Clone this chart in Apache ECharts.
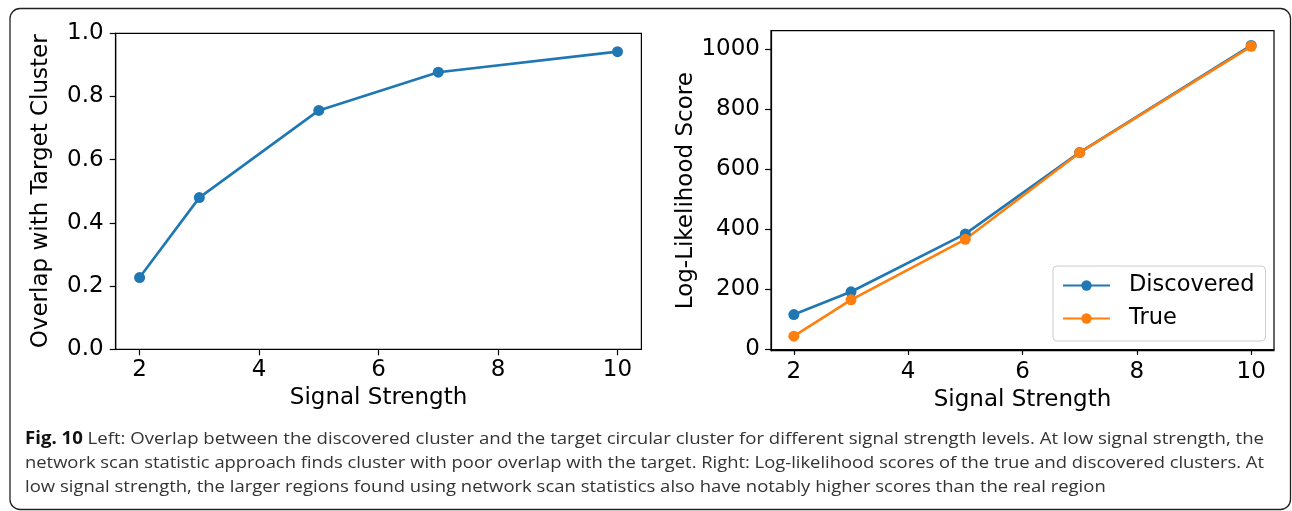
<!DOCTYPE html>
<html>
<head>
<meta charset="utf-8">
<script src="https://cdn.jsdelivr.net/npm/echarts@6/dist/echarts.min.js"></script>
<style>
  html, body { margin: 0; padding: 0; background: #fff; }
  #chart { width: 1292px; height: 511px; }
</style>
</head>
<body>
<div id="chart"></div>
<script>
// data
const signalStrength = [2, 3, 5, 7, 10];
const overlap = [0.227, 0.48, 0.756, 0.877, 0.942];
const discovered = [115, 191, 384, 656, 1013];
const trueScore = [43, 164, 366, 655, 1010];
const xTicks = [2, 4, 6, 8, 10];
const scoreTicks = [0, 200, 400, 600, 800, 1000];

const captionLines = [
    'Left: Overlap between the discovered cluster and the target circular cluster for different signal strength levels. At low signal strength, the',
    'network scan statistic approach finds cluster with poor overlap with the target. Right: Log-likelihood scores of the true and discovered clusters. At',
    'low signal strength, the larger regions found using network scan statistics also have notably higher scores than the real region'
];

const BLUE = '#1f77b4';
const ORANGE = '#ff7f0e';
const FONT = 'DejaVu Sans';
const FS = 23;

const pairs = (ys) => signalStrength.map((x, i) => [x, ys[i]]);

// measure caption so it spans the same width as in the figure
const ctx = document.createElement('canvas').getContext('2d');
function textWidth(str, font) {
    ctx.font = font;
    return ctx.measureText(str).width;
}
const capFont = '17px "Open Sans"';
const capBold = 'bold 17px "Open Sans"';
const figW = textWidth('Fig. 10 ', capBold);
const w1 = figW + textWidth(captionLines[0], capFont);
const w2 = textWidth(captionLines[1], capFont);
const s1 = 1239 / w1;
const s2 = 1239 / w2;
const s3 = (s1 + s2) / 2;

const labelStyle = { fontFamily: FONT, fontSize: FS, color: '#000' };
const blackLine = { color: '#000', width: 1.2 };

function xAxisCfg(gridIndex) {
    return {
        type: 'value',
        gridIndex,
        min: 1.6,
        max: 10.4,
        name: 'Signal Strength',
        nameLocation: 'middle',
        nameGap: 35,
        nameTextStyle: labelStyle,
        axisLine: { show: true, lineStyle: blackLine },
        axisTick: { show: true, length: 6, customValues: xTicks, lineStyle: blackLine },
        axisLabel: Object.assign({ customValues: xTicks, margin: 9.5 }, labelStyle),
        splitLine: { show: false }
    };
}

function lineSeries(name, color, data, xi) {
    return {
        name,
        type: 'line',
        xAxisIndex: xi,
        yAxisIndex: xi,
        data,
        symbol: 'circle',
        symbolSize: 11,
        color,
        lineStyle: { width: 2.6, color },
        itemStyle: { color }
    };
}

const chart = echarts.init(document.getElementById('chart'), null, { renderer: 'canvas' });

const option = {
    animation: false,
    backgroundColor: '#fff',
    grid: [
        { left: 115.7, top: 33.3, width: 525.7, height: 316, show: true, borderColor: '#000', borderWidth: 1.2, backgroundColor: 'transparent' },
        { left: 771, top: 30.7, width: 503, height: 320, show: true, borderColor: '#000', borderWidth: 1.2, backgroundColor: 'transparent' }
    ],
    xAxis: [xAxisCfg(0), xAxisCfg(1)],
    yAxis: [
        {
            type: 'value',
            gridIndex: 0,
            min: 0,
            max: 1,
            interval: 0.2,
            name: 'Overlap with Target Cluster',
            nameLocation: 'middle',
            nameRotate: 90,
            nameGap: 63,
            nameTextStyle: labelStyle,
            axisLine: { show: true, lineStyle: blackLine },
            axisTick: { show: true, length: 6, lineStyle: blackLine },
            axisLabel: Object.assign({ margin: 12, formatter: v => v.toFixed(1) }, labelStyle),
            splitLine: { show: false }
        },
        {
            type: 'value',
            gridIndex: 1,
            min: -5.6,
            max: 1062,
            name: 'Log-Likelihood Score',
            nameLocation: 'middle',
            nameRotate: 90,
            nameGap: 72,
            nameTextStyle: labelStyle,
            axisLine: { show: true, lineStyle: blackLine },
            axisTick: { show: true, length: 6, customValues: scoreTicks, lineStyle: blackLine },
            axisLabel: Object.assign({ customValues: scoreTicks, margin: 11, formatter: v => String(v) }, labelStyle),
            splitLine: { show: false }
        }
    ],
    legend: {
        data: ['Discovered', 'True'],
        orient: 'vertical',
        left: 1053,
        top: 266,
        padding: [8, 11, 11, 9],
        itemWidth: 47,
        itemHeight: 13,
        itemGap: 10,
        backgroundColor: 'rgba(255,255,255,0.8)',
        borderColor: '#cccccc',
        borderWidth: 1,
        borderRadius: 4,
        textStyle: { fontFamily: FONT, fontSize: 22.5, color: '#000', lineHeight: 22, padding: [0, 0, 0, 14] }
    },
    series: [
        lineSeries('Overlap', BLUE, pairs(overlap), 0),
        lineSeries('Discovered', BLUE, pairs(discovered), 1),
        lineSeries('True', ORANGE, pairs(trueScore), 1)
    ],
    graphic: [
        {
            type: 'rect',
            shape: { x: 10, y: 8.5, width: 1280.5, height: 501, r: 10 },
            style: { fill: 'none', stroke: '#222', lineWidth: 1.3 },
            silent: true
        },
        {
            type: 'text',
            x: 25, y: 439.5, scaleX: s1,
            style: {
                text: '{b|Fig. 10} ' + captionLines[0],
                font: capFont, fill: '#333', verticalAlign: 'middle',
                rich: { b: { fontFamily: 'Open Sans', fontWeight: 'bold', fontSize: 17, fill: '#111' } }
            }
        },
        {
            type: 'text',
            x: 25, y: 463.5, scaleX: s2,
            style: { text: captionLines[1], font: capFont, fill: '#333', verticalAlign: 'middle' }
        },
        {
            type: 'text',
            x: 25, y: 487.5, scaleX: s3,
            style: { text: captionLines[2], font: capFont, fill: '#333', verticalAlign: 'middle' }
        }
    ]
};

chart.setOption(option);
</script>
</body>
</html>
